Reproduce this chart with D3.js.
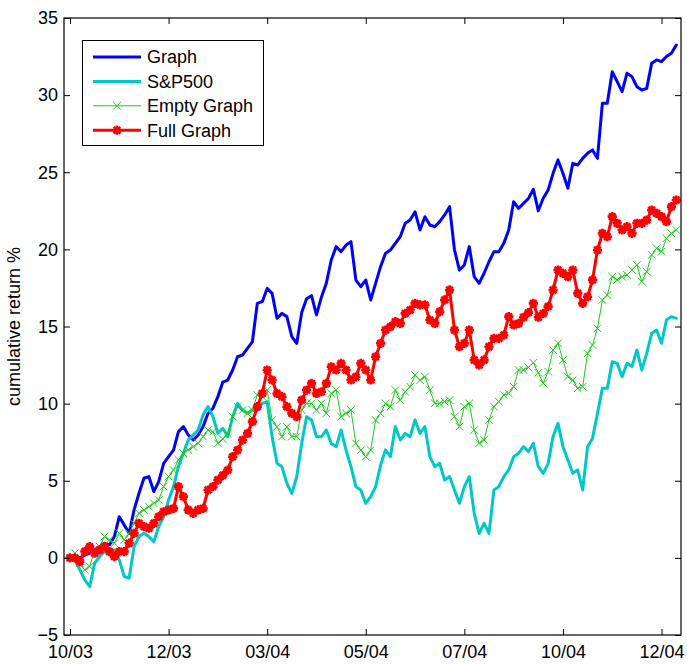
<!DOCTYPE html>
<html><head><meta charset="utf-8">
<script src="https://cdn.jsdelivr.net/npm/d3@7"></script>
<style>
body{margin:0;background:#fff}
svg text{font-family:"Liberation Sans",Arial,Helvetica,sans-serif;fill:#000}
</style>
</head><body>
<svg id="chart" width="687" height="664"></svg>
<script>
// ---- data (cumulative return %, sampled every 2 trading days) ----
const graph = [0,0.08,0,0.19,0.30,0.51,0.73,0.95,0.84,1.38,2.67,2.13,1.59,3.11,4.19,5.16,5.27,4.30,4.94,6.13,6.56,6.99,8.18,8.51,7.97,7.64,7.97,8.51,9.37,9.70,10.45,11.4,11.53,12.18,13.04,13.15,13.58,14.01,16.5,16.61,17.47,17.15,15.53,15.85,15.64,14.34,13.91,15.9,16.8,17.0,15.75,16.9,17.8,19.31,20.18,19.85,20.28,20.50,18.01,17.58,18.01,16.72,17.80,18.88,19.74,19.96,20.39,20.82,21.69,21.90,22.44,21.26,22.12,21.58,21.47,21.80,22.23,22.77,19.96,18.66,18.99,20.18,18.23,17.8,18.45,19.2,19.85,19.85,20.39,21.26,23.09,22.66,22.98,23.3,23.9,22.5,23.31,23.85,24.93,25.8,24.93,23.96,25.58,25.47,25.9,26.23,26.45,25.9,29.47,29.47,31.52,30.87,30.23,31.42,31.2,30.55,30.33,30.44,32.06,32.28,32.17,32.5,32.71,33.25];
const sp500 = [0,-0.13,-0.78,-1.43,-1.86,-0.35,0.08,0.41,0.30,0.51,-0.13,-1.21,-1.32,0.73,1.38,1.59,1.38,1.05,2.03,2.67,3.75,4.62,5.92,6.78,7.64,7.97,8.29,9.27,9.81,9.16,8.08,8.4,7.86,9.15,10.02,9.58,9.37,9.58,9.58,10.02,10.12,7.86,6.13,5.91,4.83,4.18,5.26,7.42,9.15,8.94,7.86,7.86,8.29,7.42,7.21,8.29,6.99,5.91,4.61,4.40,3.53,3.97,4.61,6.0,7.0,6.56,8.51,7.64,8.07,7.86,8.94,8.07,8.51,6.56,5.91,6.13,5.05,5.27,4.40,3.54,4.62,5.27,2.89,1.59,2.24,1.59,4.40,4.62,5.27,5.7,6.56,6.78,7.21,6.89,7.43,5.91,5.48,6.13,7.86,8.72,7.21,6.35,5.48,5.7,4.4,7.21,7.75,9.37,10.99,10.99,12.72,12.61,11.75,12.61,12.4,13.48,12.18,13.26,14.56,14.77,13.91,15.42,15.64,15.53];
const emptyGraph = [0,0.30,-0.35,-0.78,-0.56,0.51,0.73,1.38,1.16,0.95,1.59,1.16,1.59,2.24,2.89,3.11,3.32,3.54,3.75,4.62,5.27,5.70,6.35,6.78,7.00,7.21,7.43,7.86,8.29,8.18,7.43,7.7,8.07,9.15,9.80,9.58,9.37,9.58,10.56,10.45,10.88,8.94,8.50,7.86,8.50,7.86,7.86,9.58,10.02,10.02,9.58,10.02,9.37,10.66,10.88,9.15,9.37,9.58,7.42,6.99,6.56,6.99,8.94,9.37,10.02,9.8,10.88,10.23,10.77,11.1,11.85,11.53,11.75,10.88,10.02,10.02,10.13,10.23,9.15,8.51,9.8,10.02,8.29,7.43,7.64,8.94,9.8,10.13,10.56,10.66,11.1,12.18,12.18,12.35,12.65,12.0,11.32,12.07,13.48,13.91,12.83,11.75,11.53,10.99,11.1,13.26,13.8,14.88,16.72,17.04,18.23,18.02,18.23,18.34,18.66,18.99,17.91,18.56,19.64,20.07,19.85,20.72,21.04,21.26];
const fullGraph = [0,0,-0.24,0.41,0.73,0.30,0.51,0.73,0.41,0.08,0.41,0.41,0.95,1.59,2.24,2.03,1.92,2.24,2.67,2.99,3.11,3.21,4.62,3.97,3.11,2.89,3.11,3.21,4.40,4.62,5.05,5.35,5.69,6.56,6.99,7.64,8.07,8.83,9.80,10.66,12.18,11.53,10.66,10.45,9.80,9.37,9.15,10.23,10.88,11.31,10.66,10.77,11.31,12.39,12.18,12.61,12.18,11.53,11.74,12.61,12.18,11.53,13.04,13.91,14.77,14.99,15.31,15.2,15.85,16.07,16.5,16.4,16.4,15.42,15.2,15.96,16.72,17.37,14.77,13.69,13.91,14.77,12.83,12.51,12.83,13.69,14.23,14.23,14.45,15.64,15.1,15.2,15.6,15.9,16.5,15.6,15.85,16.29,17.37,18.66,18.45,18.23,18.66,17.15,16.5,16.93,18.02,19.96,21.04,20.82,22.12,21.69,21.26,21.47,21.04,21.69,21.69,21.9,22.55,22.34,22.12,21.8,22.77,23.2];

const dayStep = 2;           // trading days between samples
const firstDay = 1;
const xDomain = [-1.43, 248.9];
const xTickDays = [1, 41, 81, 121, 161, 201, 241];
const xTickLabels = ["10/03", "12/03", "03/04", "05/04", "07/04", "10/04", "12/04"];
const yDomain = [-5, 35];
const yTicks = [-5, 0, 5, 10, 15, 20, 25, 30, 35];
const seriesNames = ["Graph", "S&P500", "Empty Graph", "Full Graph"];
const yLabel = "cumulative return %";

// ---- styles ----
const styles = [
  {color: "#0000ff", width: 3, marker: null},
  {color: "#00c8c8", width: 3, marker: null},
  {color: "#1ec81e", width: 1, marker: "x", r: 3.8, mw: 1},
  {color: "#ff0000", width: 3, marker: "star", r: 4.6, mw: 2.6}
];

const W = 687, H = 664;
const m = {left: 64, right: 6, top: 18, bottom: 29};
const svg = d3.select("#chart");
const iw = W - m.left - m.right, ih = H - m.top - m.bottom;

const x = d3.scaleLinear().domain(xDomain).range([m.left, m.left + iw]);
const y = d3.scaleLinear().domain(yDomain).range([m.top + ih, m.top]);

svg.append("clipPath").attr("id", "clip")
  .append("rect").attr("x", m.left).attr("y", m.top).attr("width", iw).attr("height", ih);

const allSeries = [graph, sp500, emptyGraph, fullGraph];
const line = d3.line().x((d, i) => x(firstDay + i * dayStep)).y(d => y(d));

function markerPath(type, r) {
  if (type === "x") return `M${-r},${-r}L${r},${r}M${-r},${r}L${r},${-r}`;
  const k = r * 0.72;
  return `M${-r},0H${r}M0,${-r}V${r}M${-k},${-k}L${k},${k}M${-k},${k}L${k},${-k}`;
}

const plot = svg.append("g").attr("clip-path", "url(#clip)");
allSeries.forEach((s, si) => {
  const st = styles[si];
  const g = plot.append("g");
  g.append("path").datum(s).attr("d", line)
    .attr("fill", "none").attr("stroke", st.color)
    .attr("stroke-width", st.width).attr("stroke-linejoin", "round").attr("stroke-linecap", "round");
  if (st.marker) {
    g.selectAll("path.mk").data(s).join("path").attr("class", "mk")
      .attr("transform", (d, i) => `translate(${x(firstDay + i * dayStep)},${y(d)})`)
      .attr("d", markerPath(st.marker, st.r))
      .attr("fill", "none").attr("stroke", st.color)
      .attr("stroke-width", st.mw);
  }
});

// ---- axes (MATLAB-like box with inward ticks) ----
const fs = 18;
const axBottom = d3.axisBottom(x).tickValues(xTickDays).tickFormat((d, i) => xTickLabels[i]).tickSizeInner(-6).tickSizeOuter(0).tickPadding(10);
const axTop = d3.axisTop(x).tickValues(xTickDays).tickFormat("").tickSizeInner(-6).tickSizeOuter(0);
const axLeft = d3.axisLeft(y).tickValues(yTicks).tickFormat(d => d < 0 ? "\u2212" + Math.abs(d) : d).tickSizeInner(-6).tickSizeOuter(0).tickPadding(6);
const axRight = d3.axisRight(y).tickValues(yTicks).tickFormat("").tickSizeInner(-6).tickSizeOuter(0);

function styleAxis(g) {
  g.select(".domain").remove();
  g.selectAll(".tick line").attr("stroke", "#000").attr("stroke-width", 1);
  g.selectAll("text").style("font-size", fs + "px").attr("fill", "#000");
}
svg.append("g").attr("transform", `translate(0,${m.top + ih})`).call(axBottom).call(styleAxis);
svg.append("g").attr("transform", `translate(0,${m.top})`).call(axTop).call(styleAxis);
svg.append("g").attr("transform", `translate(${m.left},0)`).call(axLeft).call(styleAxis);
svg.append("g").attr("transform", `translate(${m.left + iw},0)`).call(axRight).call(styleAxis);

svg.append("rect").attr("x", m.left).attr("y", m.top).attr("width", iw).attr("height", ih)
  .attr("fill", "none").attr("stroke", "#000").attr("stroke-width", 1.2);

svg.append("text").attr("transform", `translate(20,${m.top + ih / 2}) rotate(-90)`)
  .attr("text-anchor", "middle").style("font-size", fs + "px").text(yLabel);

// ---- legend ----
const lg = svg.append("g");
lg.append("rect").attr("x", 82.5).attr("y", 40.5).attr("width", 181).attr("height", 105)
  .attr("fill", "#fff").attr("stroke", "#000").attr("stroke-width", 1);
seriesNames.forEach((name, i) => {
  const st = styles[i];
  const cy = 57 + i * 24.4;
  lg.append("line").attr("x1", 93).attr("x2", 141).attr("y1", cy).attr("y2", cy)
    .attr("stroke", st.color).attr("stroke-width", st.width);
  if (st.marker) {
    lg.append("path").attr("transform", `translate(117,${cy})`)
      .attr("d", markerPath(st.marker, st.r))
      .attr("fill", "none").attr("stroke", st.color).attr("stroke-width", st.mw);
  }
  lg.append("text").attr("x", 147).attr("y", cy).attr("dy", "0.35em")
    .style("font-size", fs + "px").text(name);
});
</script>
</body></html>
